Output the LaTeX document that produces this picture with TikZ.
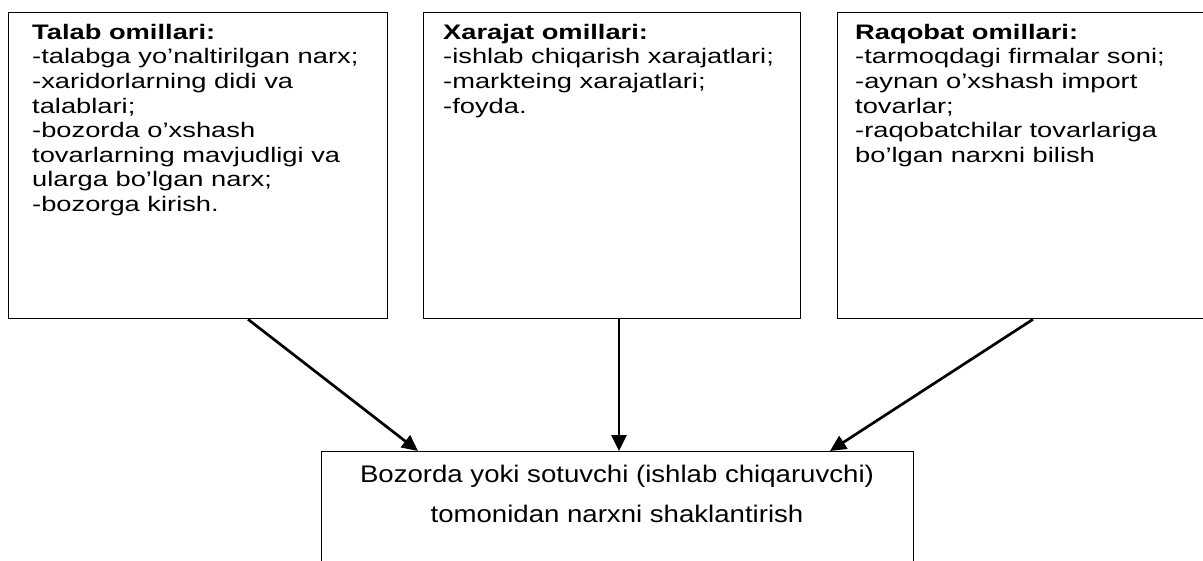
\documentclass[tikz,border=0pt]{standalone}
\usepackage{fontspec}
\setmainfont{Liberation Sans}
\newfontfamily\topfont[FakeStretch=1.3]{Liberation Sans}
\newfontfamily\botfont[FakeStretch=1.15]{Liberation Sans}
\usetikzlibrary{arrows.meta,calc}
\tikzset{
  box/.style={draw, line width=1.3pt, inner sep=0pt, anchor=north west},
  toptext/.style={anchor=north west, align=left, inner sep=0pt, font={\topfont\fontsize{21}{24.6}\selectfont}},
  bottext/.style={anchor=north, align=center, inner sep=0pt, font={\botfont\fontsize{24}{40}\selectfont}},
  conn/.style={line width=2.7pt, -{Triangle[length=16pt,width=15pt]}},
}
\begin{document}
\begin{tikzpicture}[x=1pt,y=-1pt]
\useasboundingbox (0,0) rectangle (1203,560);
\node[box, minimum width=379, minimum height=306] (L) at (8,12) {};
\node[box, minimum width=377, minimum height=306] (M) at (423,12) {};
\node[box, minimum width=380, minimum height=306] (R) at (837,12) {};
\node[box, minimum width=592, minimum height=120] (B) at (321,451) {};

\node[toptext] (Lt) at (32,23.8) {\textbf{Talab omillari:}\\-talabga yo’naltirilgan narx;\\-xaridorlarning didi va\\talablari;\\-bozorda o’xshash\\tovarlarning mavjudligi va\\ularga bo’lgan narx;\\-bozorga kirish.};
\node[toptext] (Mt) at (443,23.8) {\textbf{Xarajat omillari:}\\-ishlab chiqarish xarajatlari;\\-markteing xarajatlari;\\-foyda.};
\node[toptext] (Rt) at (855,23.8) {\textbf{Raqobat omillari:}\\-tarmoqdagi firmalar soni;\\-aynan o’xshash import\\tovarlar;\\-raqobatchilar tovarlariga\\bo’lgan narxni bilish};
\node[bottext] (Bt) at (617,464.5) {Bozorda yoki sotuvchi (ishlab chiqaruvchi)\\tomonidan narxni shaklantirish};

\draw[conn] ($(L.south west)+(240,0)$) -- ($(B.north west)+(97,0)$);
\draw[conn] ($(M.south west)+(196,0)$) -- ($(B.north west)+(298,0)$);
\draw[conn] ($(R.south west)+(196,0)$) -- ($(B.north west)+(509,0)$);
\end{tikzpicture}
\end{document}
